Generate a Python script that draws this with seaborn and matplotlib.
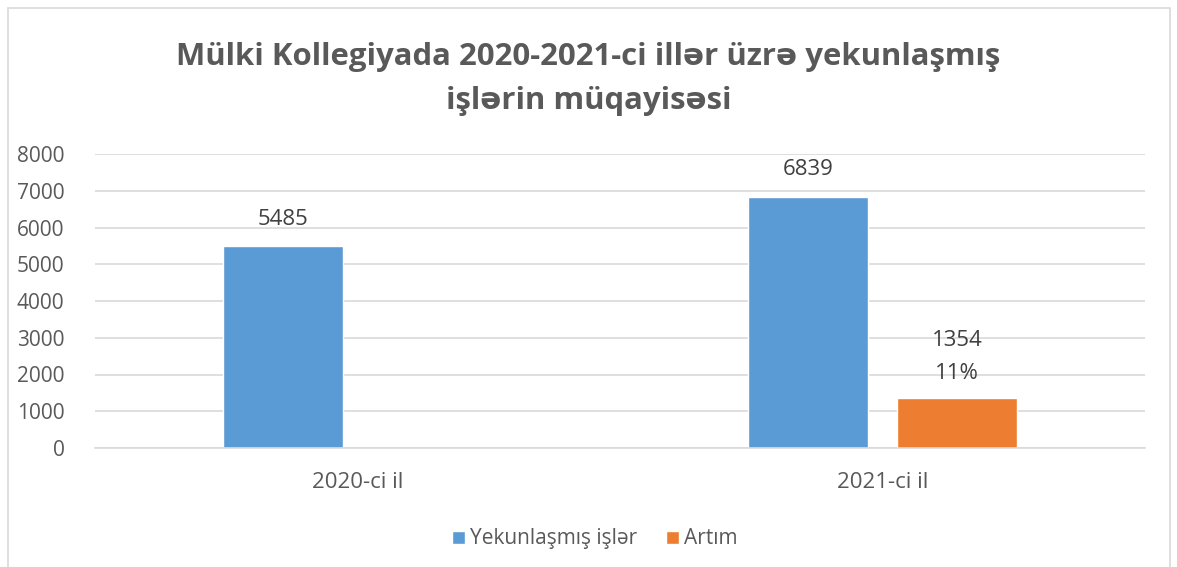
import pandas as pd
import numpy as np
import matplotlib.pyplot as plt
import seaborn as sns
from matplotlib.patches import Rectangle

# Data
years = ["2020-ci il", "2021-ci il"]
completed = [5485, 6839]
increase = [np.nan, 1354]
increase_pct = ["", "11%"]
series_names = ["Yekunlaşmış işlər", "Artım"]
y_ticks = list(range(0, 8001, 1000))

title = "Mülki Kollegiyada 2020-2021-ci illər üzrə yekunlaşmış\nişlərin müqayisəsi"

df = pd.DataFrame({
    "il": years * 2,
    "seriya": [series_names[0]] * 2 + [series_names[1]] * 2,
    "say": completed + increase,
})

sns.set_theme(style="white")
plt.rcParams["font.family"] = ["Open Sans", "DejaVu Sans"]

text_color = "#595959"
colors = {series_names[0]: "#5B9BD5", series_names[1]: "#ED7D31"}

fig = plt.figure(figsize=(11.77, 5.67), dpi=100)
ax = fig.add_axes([95 / 1177, 1 - 448 / 567, 1050 / 1177, 294 / 567])

sns.barplot(data=df.dropna(), x="il", y="say", hue="seriya", hue_order=series_names,
            order=years, palette=colors, width=0.57, gap=0.2, ax=ax,
            saturation=1, legend=True, errorbar=None)

ax.set_xlim(-0.5, 1.5)
ax.set_ylim(0, 8000)
ax.set_yticks(y_ticks)
ax.yaxis.grid(True, color="#D9D9D9", linewidth=1.2)
ax.set_axisbelow(True)
for side in ["top", "right", "left"]:
    ax.spines[side].set_visible(False)
ax.spines["bottom"].set_color("#D9D9D9")
ax.spines["bottom"].set_linewidth(1.2)
ax.set_xlabel("")
ax.set_ylabel("")
ax.tick_params(axis="both", length=0, labelcolor=text_color)
ax.tick_params(axis="y", labelsize=15, pad=22)
ax.tick_params(axis="x", labelsize=16, pad=17)

# data labels
c_blue, c_orange = ax.containers[0], ax.containers[1]
ax.bar_label(c_blue, labels=[str(v) for v in completed], padding=12,
             fontsize=16, color="#404040")
orange_labels = [f"{int(v)}\n{p}" for v, p in zip(increase, increase_pct) if not np.isnan(v)]
ax.bar_label(c_orange, labels=orange_labels, padding=10, fontsize=16,
             color="#404040", linespacing=1.75)

fig.suptitle(title, x=0.5, y=0.926, fontsize=22.4, fontweight="bold",
             color=text_color, linespacing=1.6)

leg = ax.legend(loc="upper center", bbox_to_anchor=(0.476, -0.21), ncol=2,
                frameon=False, fontsize=15, labelcolor=text_color,
                handlelength=0.6, handleheight=0.6, handletextpad=0.25,
                columnspacing=1.4)

# outer chart frame
fig.patches.append(Rectangle((8 / 1177, -0.05), 1162 / 1177, 1 - 8 / 567 + 0.05,
                             transform=fig.transFigure, fill=False,
                             edgecolor="#D9D9D9", linewidth=1.2))

fig.savefig("out.png", dpi=100)
